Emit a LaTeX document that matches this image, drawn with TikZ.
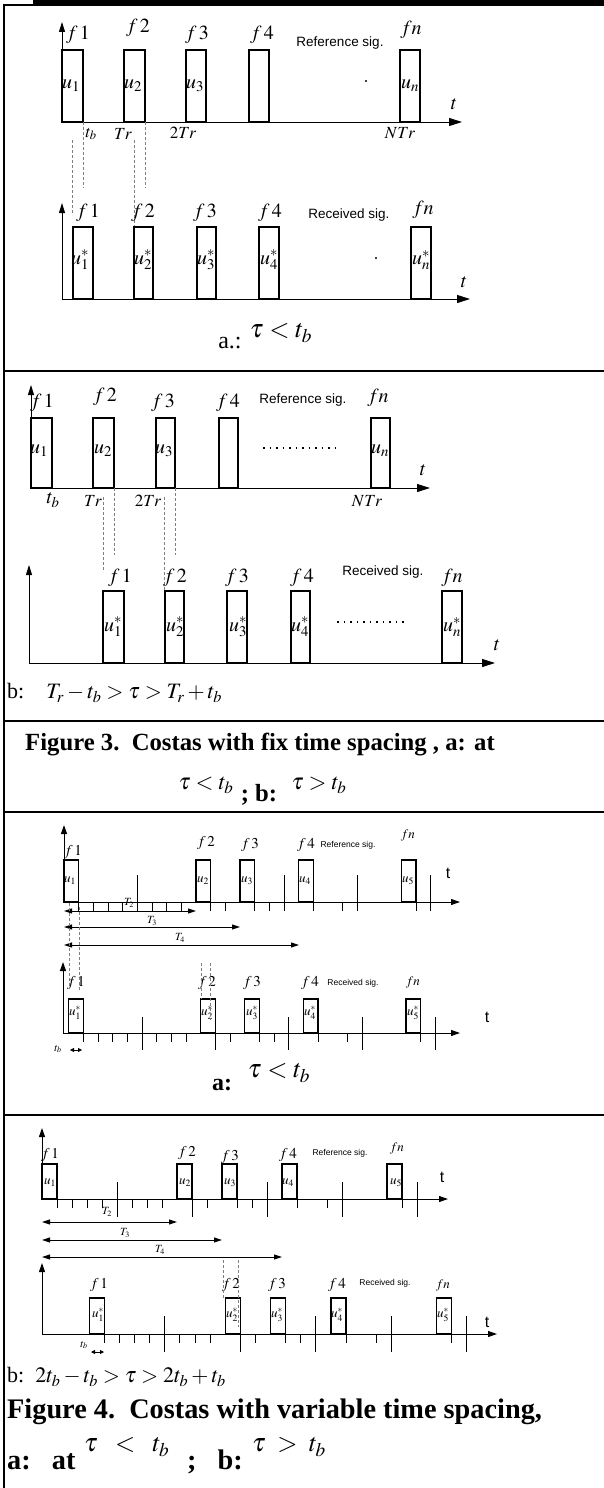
\documentclass[tikz,border=0pt]{standalone}
\usepackage{mathptmx}
\usepackage[no-math]{fontspec}
\setmainfont{Liberation Serif}
\setsansfont{Liberation Sans}
\usepackage{tikz}
\usetikzlibrary{arrows.meta}

\tikzset{
  rule/.style={line width=2pt},
  pulse/.style={draw, line width=1.3pt},
  bigx/.style={line width=1pt, -{Triangle[length=13pt,width=8pt]}},
  bigy/.style={line width=1pt, -{Triangle[length=10pt,width=6pt]}},
  smallax/.style={line width=1pt, -{Triangle[length=9pt,width=6pt]}},
  span/.style={line width=1pt, {Triangle[length=8pt,width=5pt]}-{Triangle[length=8pt,width=5pt]}},
  tiny/.style={line width=0.8pt, {Triangle[length=4pt,width=4pt]}-{Triangle[length=4pt,width=4pt]}},
  tick/.style={line width=0.9pt},
  guide/.style={gray, line width=0.6pt, dash pattern=on 3pt off 2pt},
  dots/.style={line width=1.5pt, dash pattern=on 1.5pt off 5pt},
  flab/.style={inner sep=0pt, font=\fontsize{20}{24}\selectfont},
  tlab/.style={inner sep=0pt, font=\fontsize{17}{20}\selectfont},
  sig/.style={inner sep=0pt, font=\sffamily\fontsize{13.5}{16}\selectfont},
  sflab/.style={inner sep=0pt, font=\fontsize{15}{18}\selectfont},
  sulab/.style={inner sep=0pt, font=\fontsize{13}{16}\selectfont},
  Tlab/.style={inner sep=0pt, font=\fontsize{11}{13}\selectfont},
  ssig/.style={inner sep=0pt, font=\sffamily\fontsize{8.5}{10}\selectfont},
  st/.style={inner sep=0pt, font=\sffamily\fontsize{16}{18}\selectfont},
  caption/.style={inner sep=0pt, font=\bfseries\fontsize{24.7}{29}\selectfont},
  bigcap/.style={inner sep=0pt, font=\bfseries\fontsize{28.3}{33}\selectfont},
  cond/.style={inner sep=0pt, font=\fontsize{22}{26}\selectfont}
}

\begin{document}
\begin{tikzpicture}[x=1pt,y=-1pt]
\useasboundingbox (0,0) rectangle (604,1488);
% frame
\fill (33,0) rectangle (604,5);
\draw[rule] (3,5) -- (604,5);
\draw[rule] (4,4) -- (4,1488);
\foreach \y in {371,721,812,1115} \draw[rule] (3,\y) -- (604,\y);

% Fig 3 a: reference
\draw[bigy] (62,122) -- (62,22);
\draw[bigx] (62,122) -- (462,122);
\foreach \a/\b in {62/83,124/145,186/206,249/269,400/420}
  \draw[pulse] (\a,50) rectangle (\b,122);
\foreach \x/\y/\t [count=\i] in {78/35/1,138/28/2,197/35/3,262/35/4}
  \node[flab] (af\i) at (\x,\y) {$f\,\t$};
\node[flab] (afn) at (411,30) {$fn$};
\node[sig] (aref) at (340,43) {Reference sig.};
\foreach \x/\t [count=\i] in {71/1,133/2,195/3,410/n}
  \node[flab] (au\i) at (\x,86) {$u_\t$};
\fill (366,81) circle (1.2);
\node[flab] (at) at (454,104) {$t$};
\node[tlab] (atb) at (91,134) {$t_b$};
\node[tlab] (atr) at (123,134) {$Tr$};
\node[tlab] (a2tr) at (183,133) {$2Tr$};
\node[tlab] (antr) at (400,133) {$NTr$};
\draw[guide] (83,122) -- (83,188);
\draw[guide] (145,122) -- (145,188);
\draw[guide] (72,140) -- (72,215);
\draw[guide] (134,140) -- (134,227);

% Fig 3 a: received
\draw[bigy] (62,299) -- (62,203);
\draw[bigx] (62,299) -- (470,299);
\foreach \a/\b in {73/93,134/153,197/216,259/279,411/431}
  \draw[pulse] (\a,227) rectangle (\b,299);
\foreach \x/\t [count=\i] in {88/1,143/2,205/3,270/4}
  \node[flab] (bf\i) at (\x,213) {$f\,\t$};
\node[flab] (bfn) at (423,210) {$fn$};
\node[sig] (brec) at (349,215) {Received sig.};
\foreach \x/\t [count=\i] in {80/1,143/2,206/3,269/4,421/n}
  \node[flab] (bu\i) at (\x,260) {$u_\t^*$};
\fill (376,258) circle (1.2);
\node[flab] (bt) at (464,282) {$t$};
\node[inner sep=0pt, font=\fontsize{24}{28}\selectfont] (acase) at (230,343) {a.:};
\node[inner sep=0pt, font=\fontsize{26}{30}\selectfont] (acond) at (281,333) {$\tau<t_b$};

% Fig 3 b: reference
\draw[bigy] (31,488) -- (31,385);
\draw[bigx] (31,488) -- (430,488);
\foreach \a/\b in {31/52,93/114,156/175,219/238,371/390}
  \draw[pulse] (\a,418) rectangle (\b,488);
\foreach \x/\y/\t [count=\i] in {42/403/1,105/397/2,163/403/3,228/403/4}
  \node[flab] (cf\i) at (\x,\y) {$f\,\t$};
\node[flab] (cfn) at (378,398) {$fn$};
\node[sig] (cref) at (303,400) {Reference sig.};
\foreach \x/\t [count=\i] in {39/1,103/2,164/3,380/n}
  \node[flab] (cu\i) at (\x,451) {$u_\t$};
\draw[dots] (263,448) -- (337,448);
\node[flab] (ct) at (423,470) {$t$};
\node[flab] (ctb) at (53,500) {$t_b$};
\node[tlab] (ctr) at (93,501) {$Tr$};
\node[tlab] (c2tr) at (148,501) {$2Tr$};
\node[tlab] (cntr) at (367,501) {$NTr$};
\draw[guide] (103,497) -- (103,572);
\draw[guide] (114,488) -- (114,555);
\draw[guide] (164,497) -- (164,591);
\draw[guide] (175,488) -- (175,555);

% Fig 3 b: received
\draw[bigy] (29,663) -- (29,565);
\draw[bigx] (29,663) -- (495,663);
\foreach \a/\b in {103/124,165/184,227/247,291/310,442/462}
  \draw[pulse] (\a,591) rectangle (\b,663);
\foreach \x/\t [count=\i] in {120/1,175/2,237/3,302/4}
  \node[flab] (df\i) at (\x,578) {$f\,\t$};
\node[flab] (dfn) at (452,578) {$fn$};
\node[sig] (drec) at (383,572) {Received sig.};
\foreach \x/\t [count=\i] in {113/1,175/2,238/3,300/4,452/n}
  \node[flab] (du\i) at (\x,627) {$u_\t^*$};
\draw[dots] (337,622) -- (408,622);
\node[flab] (dt) at (497,645) {$t$};
\node[cond, anchor=west] (bcase) at (7,693) {b:\quad $T_r-t_b>\tau>T_r+t_b$};

% Figure 3 caption
\node[caption] (cap3) at (260,745) {Figure 3.\ \ Costas with fix time spacing , a: at};
\node[inner sep=0pt, font=\fontsize{23}{27}\selectfont] (cap3a) at (206,785) {$\tau<t_b$};
\node[caption] (cap3b) at (259,795) {;\ b:};
\node[inner sep=0pt, font=\fontsize{23}{27}\selectfont] (cap3c) at (319,785) {$\tau>t_b$};

% Fig 4 a: reference
\draw[smallax] (64,902) -- (64,825);
\draw[smallax] (64,902) -- (460,902);
\foreach \k in {0,9,12,16,23}
  \draw[pulse] ({64+14.67*\k},860) rectangle ({64+14.67*(\k+1)},902);
\foreach \k in {1,2,3,4,6,7,8,11,13,14,17,19,24}
  \draw[tick] ({64+14.67*\k},902) -- ++(0,9);
\foreach \k in {5,10,15,20,25}
  \draw[tick] ({64+14.67*\k},875) -- ++(0,36);
\foreach \x/\y/\t [count=\i] in {73/852/1,206/843/2,250/845/3,306/845/4}
  \node[sflab] (ef\i) at (\x,\y) {$f\,\t$};
\node[sulab] (efn) at (408,835) {$fn$};
\node[ssig] (eref) at (348,845) {Reference sig.};
\foreach \x/\t [count=\i] in {70/1,203/2,247/3,305/4,408/5}
  \node[sulab] (eu\i) at (\x,881) {$u_\t$};
\node[st] (et) at (448,873) {t};
\draw[span] (64,911) -- (196,911);
\draw[span] (64,927) -- (240,927);
\draw[span] (64,945) -- (299,945);
\node[Tlab] (eT2) at (129,903) {$T_2$};
\node[Tlab] (eT3) at (152,921) {$T_3$};
\node[Tlab] (eT4) at (180,938) {$T_4$};
\draw[guide] (69,903) -- (69,987);
\draw[guide] (79,907) -- (79,990);

% Fig 4 a: received
\draw[smallax] (63,1033) -- (63,962);
\draw[smallax] (63,1033) -- (460,1033);
\foreach \k in {0,9,12,16,23}
  \draw[pulse] ({68.7+14.67*\k},999) rectangle ({68.7+14.67*(\k+1)},1033);
\foreach \k in {1,2,3,4,6,7,8,11,13,14,17,19,24}
  \draw[tick] ({68.7+14.67*\k},1033) -- ++(0,9);
\foreach \k in {5,10,15,20,25}
  \draw[tick] ({68.7+14.67*\k},1017) -- ++(0,33);
\foreach \x/\t [count=\i] in {76/1,207/2,252/3,310/4}
  \node[sflab] (ff\i) at (\x,983) {$f\,\t$};
\node[sulab] (ffn) at (413,982) {$fn$};
\node[ssig] (frec) at (353,983) {Received sig.};
\foreach \x/\t [count=\i] in {75/1,207/2,252/3,310/4,413/5}
  \node[sulab] (fu\i) at (\x,1013) {$u_\t^*$};
\node[st] (ft) at (487,1017) {t};
\draw[guide] (201,963) -- (201,999);
\draw[guide] (210,963) -- (210,1020);
\node[Tlab] (ftb) at (58,1049) {$t_b$};
\draw[tiny] (70,1050) -- (82,1050);
\node[inner sep=0pt, font=\bfseries\fontsize{24}{28}\selectfont] (ecase) at (222,1085) {a:};
\node[inner sep=0pt, font=\fontsize{26}{30}\selectfont] (econd) at (279,1073) {$\tau<t_b$};

% Fig 4 b: reference
\draw[smallax] (42,1199) -- (42,1128);
\draw[smallax] (42,1199) -- (448,1199);
\foreach \k in {0,9,12,16,23}
  \draw[pulse] ({42+15*\k},1164) rectangle ({42+15*(\k+1)},1199);
\foreach \k in {1,2,3,4,6,7,8,11,13,14,17,19,24}
  \draw[tick] ({42+15*\k},1199) -- ++(0,9);
\foreach \k in {5,10,15,20,25}
  \draw[tick] ({42+15*\k},1182) -- ++(0,35);
\foreach \x/\y/\t [count=\i] in {50/1155/1,187/1153/2,230/1157/3,288/1155/4}
  \node[sflab] (gf\i) at (\x,\y) {$f\,\t$};
\node[sulab] (gfn) at (397,1148) {$fn$};
\node[ssig] (gref) at (340,1153) {Reference sig.};
\foreach \x/\t [count=\i] in {50/1,185/2,230/3,288/4,396/5}
  \node[sulab] (gu\i) at (\x,1183) {$u_\t$};
\node[st] (gt) at (442,1177) {t};
\draw[span] (42,1222) -- (177,1222);
\draw[span] (42,1240) -- (222,1240);
\draw[span] (42,1257) -- (282,1257);
\node[Tlab] (gT2) at (107,1212) {$T_2$};
\node[Tlab] (gT3) at (125,1233) {$T_3$};
\node[Tlab] (gT4) at (160,1250) {$T_4$};

% Fig 4 b: received
\draw[smallax] (42,1334) -- (42,1263);
\draw[smallax] (42,1334) -- (497,1334);
\foreach \k in {0,9,12,16,23}
  \draw[pulse] ({89.3+15.1*\k},1298) rectangle ({89.3+15.1*(\k+1)},1334);
\foreach \k in {1,2,3,4,6,7,8,11,13,14,17,19,24}
  \draw[tick] ({89.3+15.1*\k},1334) -- ++(0,9);
\foreach \k in {5,10,15,20,25}
  \draw[tick] ({89.3+15.1*\k},1316) -- ++(0,36);
\foreach \x/\t [count=\i] in {99/1,231/2,277/3,337/4}
  \node[sflab] (hf\i) at (\x,1285) {$f\,\t$};
\node[sulab] (hfn) at (443,1285) {$fn$};
\node[ssig] (hrec) at (385,1283) {Received sig.};
\foreach \x/\t [count=\i] in {98/1,232/2,277/3,337/4,443/5}
  \node[sulab] (hu\i) at (\x,1315) {$u_\t^*$};
\node[st] (ht) at (487,1322) {t};
\draw[guide] (223,1260) -- (223,1298);
\draw[guide] (238,1260) -- (238,1327);
\node[Tlab] (htb) at (84,1345) {$t_b$};
\draw[tiny] (91,1352) -- (104,1352);
\node[cond, anchor=west] (hcase) at (7,1377) {b:\ \ $2t_b-t_b>\tau>2t_b+t_b$};

% Figure 4 caption
\node[bigcap, anchor=west] (cap4) at (7,1412) {Figure 4.\ \ Costas with variable time spacing,};
\node[bigcap, anchor=west] (cap4a) at (7,1462) {a:\ \ \ at};
\node[inner sep=0pt, anchor=west, font=\fontsize{26}{30}\selectfont] (cap4b) at (84,1447) {$\tau\;\;<\;\;t_b$};
\node[bigcap] (cap4c) at (215,1462) {;\ \ \ b:};
\node[inner sep=0pt, anchor=west, font=\fontsize{26}{30}\selectfont] (cap4d) at (252,1447) {$\tau\;>\;t_b$};
\end{tikzpicture}
\end{document}
